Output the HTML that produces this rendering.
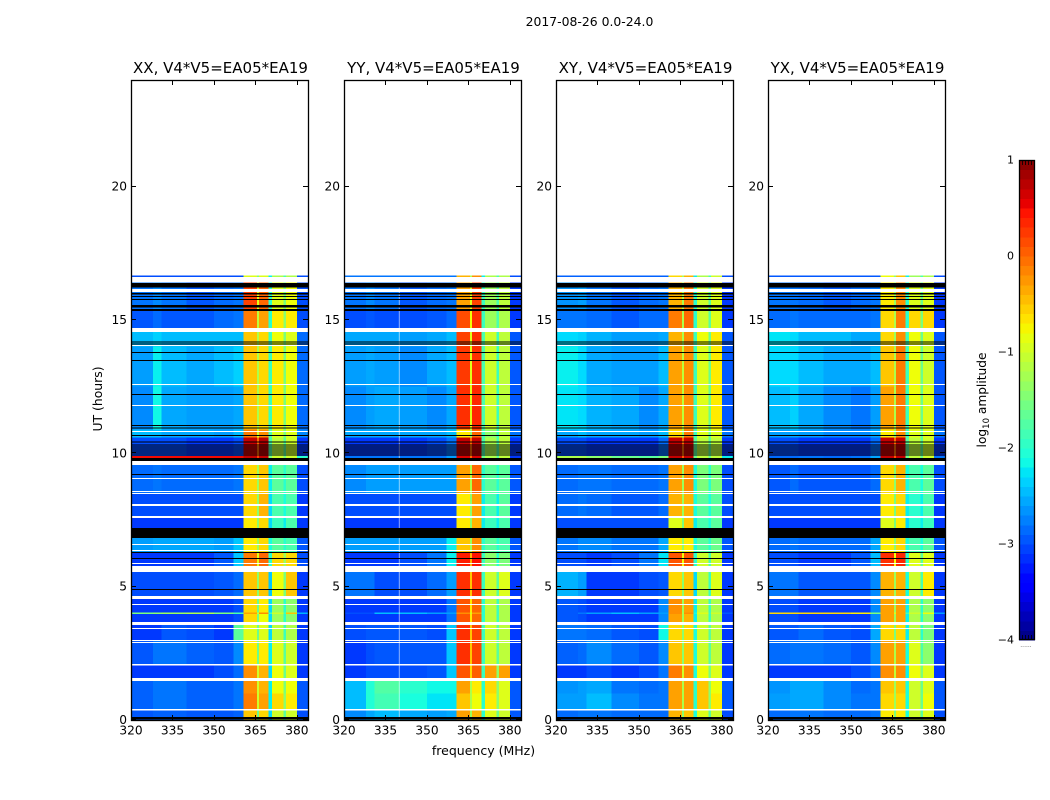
<!DOCTYPE html>
<html lang="en">
<head>
<meta charset="utf-8">
<title>2017-08-26 0.0-24.0</title>
<style>
html,body{margin:0;padding:0;background:#fff;}
svg{display:block;font-family:"DejaVu Sans","Liberation Sans",sans-serif;fill:#000;}
</style>
</head>
<body>
<svg id="chart" xmlns="http://www.w3.org/2000/svg" width="1050" height="800" viewBox="0 0 1050 800">
  <text x="589.5" y="26" font-size="12.4" text-anchor="middle">2017-08-26 0.0-24.0</text>
  <text x="483.5" y="755" font-size="12.5" text-anchor="middle">frequency (MHz)</text>
  <text transform="translate(102,399) rotate(-90)" font-size="12.4" text-anchor="middle">UT (hours)</text>
  <text transform="translate(986,400) rotate(-90)" font-size="12.2" text-anchor="middle">log<tspan font-size="8.5" dy="3">10</tspan><tspan dy="-3"> amplitude</tspan></text>
  <g id="panels"></g>
  <g id="colorbar"></g>
  <text x="1026" y="647" font-size="6" fill="#555" text-anchor="middle">......</text>
</svg>
<script>
const panelTitles = ["XX, V4*V5=EA05*EA19", "YY, V4*V5=EA05*EA19", "XY, V4*V5=EA05*EA19", "YX, V4*V5=EA05*EA19"];
const xTicks = [320, 335, 350, 365, 380];
const yTicks = [0, 5, 10, 15, 20];
const colorTicks = [1, 0, -1, -2, -3, -4];
const freqEdges = [320, 328, 331, 340, 350, 357, 360.6, 365.6, 366.2, 369.8, 371, 375.2, 376, 380, 384];
const timeEdges = [0, 0.4, 1.0, 1.5, 2.05, 3.0, 3.6, 3.98, 4.04, 4.6, 5.6, 6.3, 6.85, 7.6, 8.5, 9.6, 9.82, 9.9, 10.6, 10.9, 12.5, 14.0, 14.6, 15.4, 16.4, 16.62, 16.67];
const amplitudeXX = [
[-2.95,-2.9,-2.9,-2.95,-2.95,-2.9,-0.5,-1.6,-0.6,-2.3,-1.0,-1.7,-1.0,-3.0],
[-2.9,-2.8,-2.8,-2.9,-2.9,-2.8,-0.1,-1.0,-0.3,-2.2,-0.6,-1.4,-0.7,-2.95],
[-2.9,-2.8,-2.8,-2.9,-2.9,-2.8,-0.2,-1.0,-0.4,-2.2,-0.8,-1.5,-0.8,-2.95],
[-3.1,-3.1,-3.1,-3.1,-3.0,-2.85,-0.2,-1.0,-0.4,-2.3,-0.8,-1.6,-0.9,-3.1],
[-2.95,-2.8,-2.8,-2.9,-2.95,-2.7,-0.7,-1.6,-0.7,-2.2,-0.9,-1.7,-1.0,-3.1],
[-3.1,-3.1,-2.95,-3.0,-3.1,-1.7,-0.9,-1.6,-0.9,-2.3,-1.1,-1.9,-1.2,-3.1],
[-3.1,-3.1,-3.1,-3.1,-3.1,-3.0,-0.6,-1.6,-0.8,-2.3,-1.3,-2.0,-1.4,-3.1],
[-1.5,-1.4,-1.3,-1.2,-1.5,-1.8,-0.3,-1.0,-0.2,-1.8,-1.0,-1.8,-0.5,-2.5],
[-3.1,-3.1,-3.1,-3.1,-3.1,-3.0,-0.6,-1.6,-0.7,-2.3,-1.3,-2.0,-1.4,-3.1],
[-3.0,-3.0,-3.0,-3.0,-2.95,-2.85,-0.5,-1.4,-0.5,-2.4,-0.8,-1.5,-0.5,-3.1],
[-3.1,-3.1,-3.1,-3.1,-2.95,-2.4,-0.1,-0.9,0.0,-2.0,-0.6,-1.3,-0.6,-3.0],
[-2.6,-2.55,-2.55,-2.55,-2.6,-2.4,-0.7,-1.3,-0.6,-2.1,-1.7,-2.0,-1.8,-2.95],
[-3.1,-3.1,-3.1,-3.1,-3.1,-3.1,-0.7,-1.4,-0.6,-2.3,-1.9,-2.2,-1.8,-3.1],
[-3.0,-3.0,-3.0,-3.0,-3.0,-3.0,-0.6,-1.4,-0.4,-2.3,-1.8,-2.1,-1.8,-3.1],
[-2.85,-2.8,-2.85,-2.85,-2.85,-2.8,-0.6,-1.3,-0.5,-2.2,-1.7,-2.0,-1.7,-3.0],
[-3.0,-3.0,-3.0,-3.0,-3.0,-2.8,0.7,0.2,0.8,-1.5,-1.0,-1.5,-1.0,-3.1],
[0.5,0.5,0.5,0.5,0.5,0.5,0.7,0.2,0.7,-1.5,-1.0,-1.5,-1.0,-2.0],
[-3.0,-3.0,-3.0,-3.1,-3.1,-3.0,0.7,0.0,0.75,-1.8,-1.1,-1.7,-1.0,-3.1],
[-2.45,-2.45,-2.55,-2.55,-2.6,-2.45,-0.1,-1.0,-0.2,-1.8,-0.9,-1.5,-0.9,-2.7],
[-2.7,-2.15,-2.55,-2.6,-2.6,-2.55,-0.5,-1.2,-0.6,-1.9,-0.7,-1.5,-0.8,-2.85],
[-2.6,-2.2,-2.45,-2.55,-2.45,-2.35,-0.5,-1.2,-0.6,-1.9,-0.7,-1.5,-0.8,-2.85],
[-2.45,-2.35,-2.45,-2.45,-2.45,-2.45,-0.5,-1.2,-0.6,-1.9,-0.8,-1.5,-0.9,-2.85],
[-2.95,-2.85,-2.95,-2.95,-2.85,-2.8,-0.1,-1.1,-0.3,-2.0,-0.7,-1.4,-0.7,-3.0],
[-2.8,-2.7,-2.8,-2.95,-2.85,-2.8,0.2,-0.9,0.0,-2.0,-0.9,-1.5,-0.8,-3.0],
[null,null,null,null,null,null,null,null,null,null,null,null,null,null],
[-3.0,-3.0,-3.0,-3.0,-3.0,-3.0,-0.9,-1.5,-0.9,-2.2,-1.2,-1.8,-1.2,-3.0]
];
const amplitudeYY = [
[-2.7,-2.55,-2.45,-2.55,-2.6,-2.55,-0.3,-1.3,-0.4,-2.0,-0.9,-1.6,-1.0,-2.95],
[-2.45,-2.05,-1.85,-2.1,-2.25,-2.25,-0.5,-1.2,-0.8,-2.0,-0.7,-1.4,-0.9,-2.95],
[-2.45,-2.05,-1.75,-2.0,-2.15,-2.15,-0.3,-1.2,-0.7,-2.0,-0.6,-1.4,-0.9,-2.95],
[-3.1,-3.0,-3.0,-3.0,-2.95,-2.4,0.1,-0.6,0.05,-1.9,-0.3,-1.4,-0.3,-3.1],
[-3.1,-3.0,-2.95,-2.95,-2.95,-2.4,0.3,-0.5,0.2,-1.9,-1.0,-1.7,-1.1,-3.1],
[-3.0,-2.95,-2.95,-2.95,-3.0,-2.4,0.3,-0.5,0.2,-1.9,-1.0,-1.7,-1.1,-3.1],
[-3.1,-3.1,-3.1,-3.1,-3.1,-2.8,0.1,-0.7,0.0,-2.0,-1.1,-1.9,-1.2,-3.1],
[-3.0,-3.0,-2.45,-2.45,-2.6,-2.6,-0.2,-0.9,-0.3,-2.0,-1.1,-1.9,-1.2,-3.1],
[-3.1,-3.1,-3.1,-3.1,-3.1,-2.8,0.1,-0.7,0.0,-2.0,-1.1,-1.9,-1.2,-3.1],
[-2.8,-2.8,-3.0,-3.0,-2.85,-2.6,0.3,-0.5,0.3,-1.9,-1.0,-1.7,-0.9,-3.1],
[-3.1,-3.1,-3.1,-3.0,-2.8,-2.2,0.4,-0.4,0.45,-1.9,-1.4,-2.0,-1.5,-3.1],
[-2.6,-2.6,-2.6,-2.6,-2.6,-2.2,-0.5,-1.3,-0.2,-2.0,-1.7,-2.0,-1.8,-2.95],
[-3.1,-3.1,-3.1,-3.1,-3.1,-3.1,-0.7,-1.4,-0.4,-2.2,-1.9,-2.2,-1.8,-3.1],
[-3.0,-3.0,-3.0,-3.0,-3.0,-3.0,-0.7,-1.4,-0.3,-2.2,-1.8,-2.2,-1.7,-3.1],
[-2.7,-2.6,-2.6,-2.6,-2.6,-2.6,-0.3,-1.2,0.0,-2.0,-1.7,-2.0,-1.7,-2.95],
[-3.1,-3.0,-3.0,-3.1,-3.0,-2.8,0.6,0.0,0.7,-1.6,-1.2,-1.7,-1.1,-3.1],
[-2.8,-2.8,-2.8,-2.8,-2.8,-2.6,0.6,0.0,0.6,-1.6,-1.2,-1.7,-1.1,-3.1],
[-3.1,-3.1,-3.1,-3.1,-3.0,-2.8,0.7,0.0,0.7,-1.8,-1.2,-1.8,-1.1,-3.1],
[-2.55,-2.55,-2.55,-2.55,-2.55,-2.45,-0.7,-1.4,0.0,-1.9,-1.4,-1.9,-1.1,-2.8],
[-2.7,-2.6,-2.55,-2.6,-2.7,-2.55,0.3,-0.9,0.35,-1.8,-1.0,-1.9,-1.1,-2.95],
[-2.6,-2.55,-2.6,-2.7,-2.55,-2.45,0.25,-0.9,0.3,-1.8,-1.0,-1.9,-1.1,-2.95],
[-2.55,-2.55,-2.55,-2.6,-2.55,-2.45,0.2,-0.9,0.3,-1.8,-1.0,-1.9,-1.1,-2.95],
[-3.0,-2.95,-3.0,-3.0,-2.95,-2.85,0.15,-0.8,0.3,-1.9,-1.3,-1.8,-1.2,-3.1],
[-2.8,-2.7,-2.8,-2.95,-2.85,-2.8,-0.3,-0.9,0.2,-1.9,-1.3,-1.8,-1.1,-3.1],
[null,null,null,null,null,null,null,null,null,null,null,null,null,null],
[-2.8,-2.8,-2.8,-2.8,-2.8,-2.8,-0.4,-1.2,-0.2,-2.2,-1.2,-1.8,-1.2,-3.0]
];
const amplitudeXY = [
[-2.85,-2.8,-2.8,-2.85,-2.85,-2.85,-0.4,-1.4,-0.5,-2.1,-0.9,-1.7,-1.0,-3.0],
[-2.6,-2.6,-2.45,-2.7,-2.8,-2.8,-0.3,-1.2,-0.3,-2.0,-0.5,-1.4,-0.7,-2.95],
[-2.65,-2.6,-2.55,-2.8,-2.85,-2.8,-0.3,-1.2,-0.3,-2.0,-0.5,-1.4,-0.8,-2.95],
[-3.1,-3.1,-3.0,-3.1,-3.0,-2.8,-0.1,-1.0,-0.2,-2.1,-0.8,-1.5,-0.9,-3.1],
[-2.9,-2.85,-2.7,-2.85,-2.95,-2.7,-0.5,-1.4,-0.5,-2.1,-1.0,-1.7,-1.1,-3.1],
[-2.8,-2.8,-2.85,-2.95,-3.0,-2.15,-0.6,-1.4,-0.6,-2.1,-1.0,-1.7,-1.1,-3.1],
[-2.95,-3.0,-3.1,-3.1,-3.1,-2.7,-0.3,-1.3,-0.4,-2.2,-1.1,-1.9,-1.2,-3.1],
[-2.95,-2.8,-2.6,-2.45,-2.6,-2.6,-0.2,-1.2,-0.2,-2.1,-0.9,-1.8,-1.0,-2.95],
[-2.95,-3.0,-3.1,-3.1,-3.1,-2.7,-0.2,-1.3,-0.3,-2.2,-1.1,-1.9,-1.2,-3.1],
[-2.5,-2.6,-3.1,-3.1,-3.0,-2.95,-0.6,-1.4,-0.5,-2.3,-1.1,-1.9,-0.9,-3.1],
[-3.0,-3.0,-3.1,-3.0,-2.8,-2.25,0.1,-0.8,0.1,-2.0,-1.0,-1.8,-1.0,-3.1],
[-2.8,-2.7,-2.7,-2.8,-2.8,-2.55,-0.7,-1.4,-0.7,-2.1,-1.7,-2.0,-1.6,-2.95],
[-3.0,-3.0,-3.0,-3.0,-3.0,-3.0,-0.9,-1.5,-0.5,-2.2,-1.8,-2.1,-1.7,-3.1],
[-2.85,-2.8,-2.85,-2.95,-2.95,-2.85,-0.4,-1.3,-0.4,-2.1,-1.7,-2.1,-1.7,-3.0],
[-2.85,-2.8,-2.8,-2.85,-2.85,-2.8,-0.3,-1.3,-0.2,-2.1,-1.5,-2.0,-1.5,-3.0],
[-3.0,-3.0,-3.0,-3.1,-3.0,-2.7,0.7,0.1,0.7,-1.6,-1.1,-1.6,-1.1,-3.1],
[-1.2,-1.2,-1.4,-1.6,-1.7,-1.5,0.7,0.1,0.7,-1.6,-1.1,-1.6,-1.1,-2.2],
[-3.0,-3.0,-3.1,-3.1,-3.1,-2.85,0.7,0.0,0.7,-1.7,-1.1,-1.7,-1.1,-3.1],
[-2.55,-2.45,-2.55,-2.55,-2.6,-2.45,-0.6,-1.4,-0.1,-1.9,-0.9,-1.6,-0.9,-2.8],
[-2.25,-2.3,-2.5,-2.55,-2.7,-2.55,-0.3,-1.1,-0.2,-1.9,-0.9,-1.6,-0.7,-2.95],
[-2.2,-2.3,-2.55,-2.6,-2.6,-2.45,-0.3,-1.1,-0.2,-1.9,-0.9,-1.6,-0.7,-2.95],
[-2.3,-2.35,-2.5,-2.6,-2.6,-2.55,-0.4,-1.2,-0.2,-1.9,-0.8,-1.6,-0.7,-2.95],
[-2.8,-2.8,-2.85,-2.95,-2.85,-2.85,-0.1,-1.2,0.0,-2.0,-1.0,-1.7,-0.9,-3.1],
[-2.65,-2.6,-2.8,-2.95,-2.85,-2.8,-0.4,-1.2,-0.1,-2.0,-1.0,-1.7,-0.9,-3.1],
[null,null,null,null,null,null,null,null,null,null,null,null,null,null],
[-2.9,-2.9,-2.9,-2.9,-2.9,-2.9,-0.6,-1.3,-0.4,-2.2,-1.2,-1.8,-1.0,-3.0]
];
const amplitudeYX = [
[-2.85,-2.8,-2.8,-2.85,-2.85,-2.8,-0.7,-1.5,-0.7,-2.1,-1.0,-1.7,-0.9,-3.0],
[-2.6,-2.55,-2.55,-2.7,-2.8,-2.8,-0.6,-1.3,-0.6,-2.1,-1.0,-1.6,-0.8,-2.95],
[-2.65,-2.55,-2.55,-2.7,-2.85,-2.8,-0.5,-1.3,-0.5,-2.1,-1.0,-1.6,-0.9,-2.95],
[-3.1,-3.1,-3.1,-3.1,-3.0,-2.85,-0.2,-1.1,-0.2,-2.2,-0.8,-1.5,-0.9,-3.1],
[-2.85,-2.8,-2.8,-2.85,-2.95,-2.7,-0.3,-1.2,-0.3,-2.1,-0.9,-1.8,-1.4,-3.1],
[-2.95,-2.95,-2.85,-2.95,-3.0,-2.55,-0.6,-1.5,-0.6,-2.2,-1.1,-2.0,-1.5,-3.1],
[-3.0,-3.0,-3.1,-3.1,-3.1,-2.7,-0.3,-1.3,-0.3,-2.2,-1.2,-2.0,-1.4,-3.1],
[-0.6,-0.6,-0.6,-0.6,-0.7,-1.5,-0.3,-0.9,-0.3,-1.8,-1.0,-1.8,-0.8,-2.6],
[-3.0,-3.0,-3.1,-3.1,-3.1,-2.7,-0.3,-1.3,-0.3,-2.2,-1.2,-2.0,-1.4,-3.1],
[-2.8,-2.8,-2.95,-2.95,-2.95,-2.7,-0.4,-1.3,-0.4,-2.1,-1.0,-1.8,-0.7,-3.1],
[-3.0,-3.0,-3.1,-3.1,-2.95,-2.45,0.3,-0.8,0.35,-2.0,-0.9,-1.7,-0.9,-3.1],
[-2.85,-2.8,-2.85,-2.85,-2.85,-2.55,-0.7,-1.4,-0.6,-2.1,-1.8,-2.1,-1.7,-2.95],
[-3.1,-3.1,-3.1,-3.1,-3.1,-3.1,-0.9,-1.5,-0.7,-2.3,-2.0,-2.2,-1.9,-3.1],
[-3.0,-3.0,-3.0,-3.0,-3.0,-3.0,-0.7,-1.5,-0.6,-2.2,-2.0,-2.2,-1.8,-3.1],
[-2.95,-2.85,-2.95,-2.95,-2.95,-2.85,-0.6,-1.4,-0.4,-2.1,-1.8,-2.1,-1.7,-3.0],
[-3.0,-2.95,-2.95,-3.1,-3.0,-2.7,0.7,0.1,0.7,-1.6,-1.1,-1.6,-1.0,-3.1],
[-2.85,-2.85,-2.8,-2.85,-2.8,-2.55,0.7,0.1,0.7,-1.6,-1.1,-1.6,-1.0,-2.8],
[-3.0,-3.0,-3.1,-3.1,-3.1,-2.85,0.7,0.0,0.7,-1.7,-1.1,-1.7,-1.0,-3.1],
[-2.6,-2.55,-2.6,-2.7,-2.7,-2.55,-0.7,-1.4,-0.2,-1.9,-0.9,-1.7,-0.9,-2.8],
[-2.45,-2.35,-2.55,-2.7,-2.8,-2.6,-0.3,-1.2,-0.1,-1.9,-0.8,-1.6,-0.9,-2.95],
[-2.3,-2.3,-2.45,-2.55,-2.55,-2.45,-0.5,-1.2,-0.1,-1.9,-0.8,-1.6,-1.0,-2.95],
[-2.25,-2.3,-2.45,-2.45,-2.55,-2.55,-0.6,-1.3,-0.2,-1.9,-0.8,-1.6,-0.9,-2.95],
[-2.85,-2.8,-2.85,-2.85,-2.85,-2.8,-0.6,-1.2,-0.1,-2.0,-0.6,-1.5,-0.6,-3.1],
[-2.8,-2.8,-2.85,-2.95,-2.85,-2.8,-0.7,-1.3,-0.2,-2.0,-0.9,-1.6,-0.9,-3.1],
[null,null,null,null,null,null,null,null,null,null,null,null,null,null],
[-2.95,-2.95,-2.95,-2.95,-2.95,-2.95,-0.8,-1.4,-0.5,-2.2,-1.3,-1.8,-1.2,-3.0]
];
const panelAmplitudes = [amplitudeXX, amplitudeYY, amplitudeXY, amplitudeYX];
const flaggedBlankHours = [[0.356,0.41],[1.46,1.575],[2.04,2.1],[2.89,2.925],[2.96,3.0],[3.41,3.45],[3.56,3.67],[4.31,4.35],[4.54,4.65],[5.55,5.78],[5.85,5.89],[6.34,6.38],[6.56,6.6],[7.58,7.65],[8.03,8.1],[8.48,8.52],[8.55,8.59],[9.04,9.08],[9.56,9.71],[10.8,10.84],[11.78,11.81],[12.56,12.6],[14.03,14.06],[14.55,14.7],[16.05,16.16]];
const flaggedZeroHours = [[0.02,0.11],[4.875,4.91],[6.04,6.07],[6.26,6.3],[6.83,7.2],[9.19,9.22],[9.71,9.82],[9.93,9.96],[10.01,10.04],[10.08,10.11],[10.15,10.18],[10.23,10.26],[10.3,10.33],[10.41,10.44],[10.65,10.68],[10.94,10.97],[11.03,11.06],[12.2,12.23],[13.47,13.5],[13.77,13.8],[14.09,14.12],[14.16,14.19],[15.34,15.41],[15.47,15.56],[15.75,15.79],[15.86,15.9],[15.96,16.01],[16.22,16.39]];
const blankChannel = [340];
const colorLevels = [-4,-3.9,-3.8,-3.7,-3.6,-3.5,-3.4,-3.3,-3.2,-3.1,-3,-2.9,-2.8,-2.7,-2.6,-2.5,-2.4,-2.3,-2.2,-2.1,-2,-1.9,-1.8,-1.7,-1.6,-1.5,-1.4,-1.3,-1.2,-1.1,-1,-0.9,-0.8,-0.7,-0.6,-0.5,-0.4,-0.3,-0.2,-0.1,0,0.1,0.2,0.3,0.4,0.5,0.6,0.7,0.8,0.9];

const SVGNS = 'http://www.w3.org/2000/svg';
const panelLefts = [131, 344, 556, 768];
const panelWidth = 177, plotTop = 80, plotBottom = 720;
const xScale = (f, left) => left + (f - 320) / 64 * panelWidth;
const yScale = t => plotBottom - t / 24 * (plotBottom - plotTop);
const colorY = v => 640 - (v + 4) / 5 * 480;

function jet(v) {
  const x = Math.max(0, Math.min(1, (v + 4) / 5));
  const seg = (pts) => {
    for (let i = 1; i < pts.length; i++) {
      if (x <= pts[i][0]) {
        const t = (x - pts[i-1][0]) / (pts[i][0] - pts[i-1][0]);
        return pts[i-1][1] + t * (pts[i][1] - pts[i-1][1]);
      }
    }
    return pts[pts.length-1][1];
  };
  const r = seg([[0,0],[0.35,0],[0.66,1],[0.89,1],[1,0.5]]);
  const g = seg([[0,0],[0.125,0],[0.375,1],[0.64,1],[0.91,0],[1,0]]);
  const b = seg([[0,0.5],[0.11,1],[0.34,1],[0.65,0],[1,0]]);
  return 'rgb(' + Math.round(r*255) + ',' + Math.round(g*255) + ',' + Math.round(b*255) + ')';
}
function make(tag, parent, attrs) {
  const el = document.createElementNS(SVGNS, tag);
  for (const k in attrs) el.setAttribute(k, attrs[k]);
  parent.appendChild(el);
  return el;
}

const panelsGroup = document.getElementById('panels');
panelTitles.forEach((title, p) => {
  const left = panelLefts[p];
  const right = left + panelWidth;
  const g = make('g', panelsGroup, {});
  
  

  const matrix = panelAmplitudes[p];
  const cells = make('g', g, {'shape-rendering': 'crispEdges'});
  
  
  matrix.forEach((row, r) => {
    row.forEach((value, c) => {
      if (value === null) return;
      const x0 = xScale(freqEdges[c], left), x1 = xScale(freqEdges[c + 1], left);
      const y0 = yScale(timeEdges[r + 1]), y1 = yScale(timeEdges[r]);
      const cell = make('rect', cells, {x: x0, y: y0, width: x1 - x0, height: y1 - y0, fill: jet(value)});
      
      
    });
  });
  if (p === 1) {
    blankChannel.forEach(f => {
      const line = make('line', g, {x1: xScale(f, left), x2: xScale(f, left), y1: yScale(16.3), y2: yScale(0), stroke: '#fff', 'stroke-opacity': 0.55, 'stroke-width': 1});
      
      
    });
  }
  const flags = make('g', g, {'shape-rendering': 'crispEdges'});
  
  
  flaggedBlankHours.forEach(range => {
    const band = make('rect', flags, {x: left, y: yScale(range[1]), width: panelWidth, height: Math.max(1, yScale(range[0]) - yScale(range[1])), fill: '#fff'});
    
    
  });
  flaggedZeroHours.forEach(range => {
    const band = make('rect', flags, {x: left, y: yScale(range[1]), width: panelWidth, height: Math.max(1, yScale(range[0]) - yScale(range[1])), fill: '#000'});
    
    
  });

  const frame = make('rect', g, {x: left + 0.5, y: plotTop + 0.5, width: panelWidth, height: plotBottom - plotTop, fill: 'none', stroke: '#000', 'stroke-width': 1.3});
  
  

  xTicks.forEach(tick => {
    const x = Math.round(xScale(tick, left)) + 0.5;
    const t1 = make('line', g, {x1: x, x2: x, y1: plotBottom, y2: plotBottom - 5, stroke: '#000'});
    
    
    const t2 = make('line', g, {x1: x, x2: x, y1: plotTop, y2: plotTop + 5, stroke: '#000'});
    
    
    const label = make('text', g, {x: xScale(tick, left), y: 734.5, 'font-size': 12.2, 'text-anchor': 'middle'});
    label.textContent = tick;
    
    
  });
  yTicks.forEach(tick => {
    const y = Math.round(yScale(tick)) - 0.5;
    const t1 = make('line', g, {x1: left, x2: left + 5, y1: y, y2: y, stroke: '#000'});
    
    
    const t2 = make('line', g, {x1: right, x2: right - 5, y1: y, y2: y, stroke: '#000'});
    
    
    const label = make('text', g, {x: left - 4, y: yScale(tick) + 4, 'font-size': 12.2, 'text-anchor': 'end'});
    label.textContent = tick;
    
    
  });
  const heading = make('text', g, {x: left + panelWidth / 2 + 1, y: 73, 'font-size': 15, 'text-anchor': 'middle'});
  heading.textContent = title;
  
  
});

const bar = document.getElementById('colorbar');
colorLevels.forEach(level => {
  const y1 = colorY(level), y0 = colorY(level + 0.1);
  const swatch = make('rect', bar, {x: 1019, y: y0, width: 16, height: y1 - y0 + 0.5, fill: jet(level + 0.05), 'shape-rendering': 'crispEdges'});
  
  
});
const barFrame = make('rect', bar, {x: 1019.5, y: 160.5, width: 15, height: 479, fill: 'none', stroke: '#000', 'stroke-width': 1.3});


[1022.5, 1025.5, 1028.5, 1031.5].forEach(x => {
  const top = make('line', bar, {x1: x, x2: x, y1: 160, y2: 165, stroke: '#000', 'stroke-width': 0.8});
  
  
  const bottom = make('line', bar, {x1: x, x2: x, y1: 635, y2: 640, stroke: '#000', 'stroke-width': 0.8});
  
  
});
colorTicks.forEach(tick => {
  const label = make('text', bar, {x: 1014, y: colorY(tick) + 3.5, 'font-size': 11, 'text-anchor': 'end'});
  label.textContent = String(tick).replace('-', '\u2212');
  
  
});
</script>
</body>
</html>
